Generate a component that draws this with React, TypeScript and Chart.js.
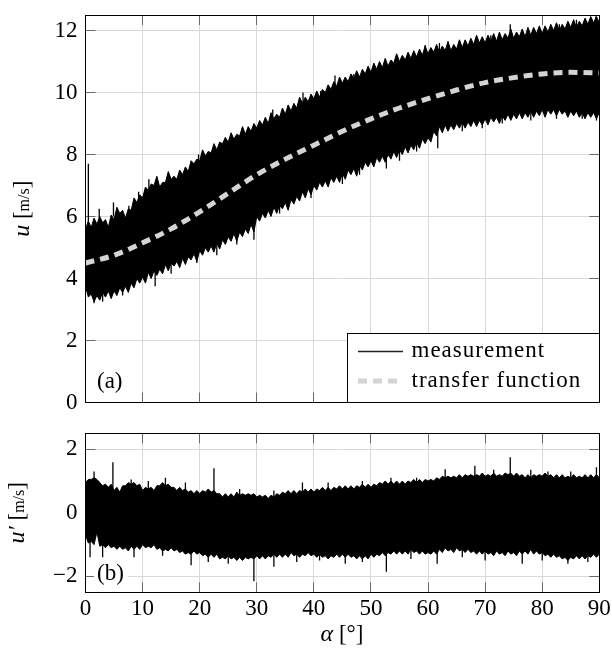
import React, { useEffect, useRef } from 'react';
import { Chart, registerables } from 'chart.js';

Chart.register(...registerables);

const SERIF = '"Liberation Serif", serif';

// angle samples (degrees): core edge at whole degrees, fringe tips at half degrees
const ALPHA = Array.from({ length: 91 }, (_, i) => i);
const HALF_ALPHA = Array.from({ length: 90 }, (_, i) => i + 0.5);

// (a) measurement band, u [m/s]: upper core edge / upper fringe tips
const TOP_UPPER = [
  5.6, 5.65, 5.75, 5.8, 5.65, 5.9, 6.1, 5.95, 6.2, 6.45,
  6.6, 6.85, 7.0, 6.95, 7.1, 7.2, 7.2, 7.35, 7.45, 7.7,
  7.8, 7.95, 8.05, 8.15, 8.35, 8.4, 8.5, 8.6, 8.65, 8.75,
  8.85, 8.95, 9.0, 9.15, 9.2, 9.3, 9.4, 9.5, 9.65, 9.7,
  9.8, 9.85, 10.0, 10.1, 10.2, 10.3, 10.35, 10.45, 10.5, 10.6,
  10.65, 10.75, 10.8, 10.85, 10.95, 11.0, 11.05, 11.1, 11.15, 11.2,
  11.25, 11.3, 11.3, 11.35, 11.35, 11.4, 11.45, 11.5, 11.55, 11.6,
  11.6, 11.65, 11.65, 11.7, 11.75, 11.75, 11.8, 11.8, 11.85, 11.9,
  11.9, 11.95, 12.0, 12.0, 12.05, 12.1, 12.1, 12.15, 12.2, 12.25,
  12.25,
];
const TOP_UPPER_FRINGE = [
  5.85, 5.95, 6.0, 5.9, 6.05, 6.3, 6.2, 6.25, 6.6, 6.7,
  6.95, 7.05, 7.3, 7.1, 7.45, 7.3, 7.5, 7.6, 7.8, 7.85,
  8.15, 8.1, 8.35, 8.4, 8.55, 8.7, 8.65, 8.9, 8.9, 9.0,
  9.1, 9.2, 9.35, 9.3, 9.5, 9.6, 9.65, 9.85, 9.85, 9.95,
  10.05, 10.1, 10.25, 10.35, 10.5, 10.5, 10.6, 10.7, 10.75, 10.85,
  10.95, 11.0, 11.1, 11.05, 11.25, 11.2, 11.3, 11.35, 11.4, 11.5,
  11.45, 11.55, 11.5, 11.65, 11.55, 11.7, 11.7, 11.75, 11.85, 11.8,
  11.85, 11.9, 11.95, 11.9, 12.05, 11.95, 12.05, 12.1, 12.1, 12.15,
  12.15, 12.2, 12.25, 12.2, 12.3, 12.35, 12.3, 12.4, 12.45, 12.45,
];
const TOP_LOWER = [
  3.75, 3.5, 3.45, 3.55, 3.6, 3.6, 3.7, 3.75, 3.85, 4.0,
  4.05, 4.2, 4.25, 4.3, 4.45, 4.5, 4.55, 4.65, 4.7, 4.8,
  4.9, 5.0, 5.05, 5.15, 5.25, 5.35, 5.45, 5.5, 5.6, 5.75,
  6.0, 6.1, 6.2, 6.3, 6.35, 6.45, 6.55, 6.65, 6.8, 6.9,
  7.0, 7.1, 7.15, 7.25, 7.3, 7.4, 7.5, 7.55, 7.65, 7.75,
  7.8, 7.9, 7.95, 8.0, 8.1, 8.15, 8.25, 8.3, 8.4, 8.5,
  8.55, 8.75, 8.9, 8.95, 8.95, 9.0, 9.05, 9.05, 9.1, 9.1,
  9.15, 9.2, 9.2, 9.25, 9.3, 9.3, 9.35, 9.35, 9.4, 9.4,
  9.45, 9.45, 9.45, 9.45, 9.4, 9.4, 9.4, 9.35, 9.35, 9.35,
  9.35,
];
const TOP_LOWER_FRINGE = [
  3.4, 3.25, 3.3, 3.4, 3.35, 3.45, 3.55, 3.55, 3.7, 3.85,
  3.85, 4.0, 4.1, 4.15, 4.25, 4.4, 4.35, 4.45, 4.6, 4.55,
  4.75, 4.85, 4.85, 4.95, 5.1, 5.2, 5.2, 5.35, 5.45, 5.5,
  5.85, 5.95, 6.0, 6.1, 6.25, 6.2, 6.4, 6.5, 6.6, 6.7,
  6.85, 6.95, 6.95, 7.1, 7.1, 7.2, 7.35, 7.3, 7.5, 7.6,
  7.6, 7.75, 7.75, 7.85, 7.9, 8.0, 8.05, 8.15, 8.2, 8.35,
  8.4, 8.6, 8.7, 8.75, 8.8, 8.85, 8.85, 8.9, 8.9, 8.95,
  8.95, 9.05, 9.0, 9.1, 9.1, 9.15, 9.15, 9.2, 9.2, 9.25,
  9.2, 9.3, 9.25, 9.3, 9.2, 9.25, 9.2, 9.15, 9.2, 9.15,
];

// (a) isolated long spikes: angle, base and tip value
const TOP_SPIKE_X = [
  0.5, 2.4, 4.9, 7.6, 9.3, 11.1, 16.5, 19.8, 24.5, 27.5, 32.8, 35.5, 38.1, 41.2, 43.7,
  47.0, 50.5, 53.5, 56.5, 59.5, 62.0, 65.5, 68.4, 71.0, 74.4, 77.5, 80.5, 83.0, 86.0, 89.4,
  1.5, 3.0, 6.5, 12.2, 15.0, 19.5, 23.0, 26.5, 29.5, 34.0, 39.5, 45.0,
  48.0, 52.7, 55.0, 58.0, 61.7, 66.0, 69.5, 73.0, 78.0, 82.5, 87.0, 89.5,
];
const TOP_SPIKE_BASE = [
  5.6, 5.8, 6.0, 5.95, 6.45, 6.85, 7.25, 7.8, 8.35, 8.6, 9.1, 9.3, 9.6, 9.85, 10.15,
  10.4, 10.7, 10.85, 11.05, 11.2, 11.3, 11.4, 11.55, 11.65, 11.75, 11.8, 11.9, 12.0, 12.1, 12.25,
  3.5, 3.55, 3.7, 4.25, 4.5, 4.8, 5.15, 5.45, 5.75, 6.35, 6.9, 7.4,
  7.65, 7.95, 8.15, 8.4, 8.75, 9.05, 9.1, 9.25, 9.4, 9.45, 9.35, 9.35,
];
const TOP_SPIKE_TIP = [
  7.7, 6.25, 6.45, 6.35, 6.8, 7.2, 7.45, 8.0, 8.55, 8.85, 9.45, 9.55, 10.0, 10.05, 10.55,
  10.6, 10.85, 11.0, 11.25, 11.53, 11.6, 11.65, 11.75, 11.85, 12.2, 12.0, 12.1, 12.2, 12.35, 12.45,
  3.2, 3.25, 3.45, 3.75, 4.15, 4.5, 4.75, 5.1, 5.25, 6.1, 6.6, 7.05,
  7.35, 7.55, 7.8, 8.1, 8.2, 8.75, 8.85, 9.0, 9.1, 9.15, 9.15, 9.1,
];

// (a) transfer function
const TF_ALPHA = [0, 5, 10, 15, 20, 25, 30, 35, 40, 45, 50, 55, 60, 65, 70, 75, 80, 85, 90];
const TF_U = [4.5, 4.75, 5.15, 5.6, 6.15, 6.75, 7.35, 7.85, 8.3, 8.75, 9.15, 9.5, 9.8, 10.08, 10.32, 10.48, 10.6, 10.65, 10.63];

// (b) fluctuation band u' [m/s]
const BOT_UPPER = [
  0.95, 1.05, 1.05, 0.85, 0.8, 0.7, 0.65, 0.85, 0.9, 0.85,
  0.7, 0.75, 0.7, 0.85, 0.85, 0.8, 0.7, 0.7, 0.65, 0.6,
  0.6, 0.65, 0.65, 0.6, 0.5, 0.5, 0.5, 0.55, 0.55, 0.55,
  0.5, 0.5, 0.45, 0.5, 0.55, 0.6, 0.6, 0.6, 0.65, 0.65,
  0.65, 0.7, 0.7, 0.7, 0.75, 0.75, 0.75, 0.75, 0.8, 0.8,
  0.8, 0.85, 0.9, 0.9, 0.9, 0.9, 0.9, 0.95, 0.95, 0.95,
  1.0, 1.0, 1.05, 1.1, 1.1, 1.1, 1.1, 1.15, 1.15, 1.15,
  1.15, 1.15, 1.15, 1.15, 1.2, 1.15, 1.15, 1.1, 1.1, 1.15,
  1.15, 1.15, 1.1, 1.1, 1.1, 1.1, 1.1, 1.1, 1.1, 1.1,
  1.1,
];
const BOT_UPPER_FRINGE = [
  1.05, 1.1, 0.95, 0.9, 0.9, 0.8, 0.85, 0.95, 0.95, 0.9,
  0.8, 0.8, 0.85, 0.95, 0.9, 0.8, 0.8, 0.75, 0.7, 0.7,
  0.7, 0.75, 0.7, 0.6, 0.6, 0.6, 0.65, 0.6, 0.6, 0.6,
  0.55, 0.55, 0.55, 0.6, 0.65, 0.7, 0.7, 0.7, 0.75, 0.75,
  0.75, 0.8, 0.8, 0.8, 0.85, 0.85, 0.85, 0.85, 0.9, 0.9,
  0.9, 0.95, 1.0, 1.0, 1.0, 1.0, 1.0, 1.05, 1.05, 1.05,
  1.05, 1.1, 1.15, 1.15, 1.15, 1.2, 1.2, 1.2, 1.2, 1.25,
  1.2, 1.25, 1.2, 1.25, 1.25, 1.25, 1.2, 1.2, 1.2, 1.2,
  1.25, 1.2, 1.2, 1.2, 1.15, 1.2, 1.15, 1.2, 1.2, 1.2,
];
const BOT_LOWER = [
  -0.7, -0.9, -0.6, -1.0, -1.0, -1.05, -1.05, -1.1, -1.05, -1.05,
  -1.0, -1.05, -1.0, -1.1, -1.15, -1.1, -1.15, -1.2, -1.25, -1.2,
  -1.25, -1.3, -1.3, -1.3, -1.4, -1.35, -1.4, -1.4, -1.4, -1.4,
  -1.35, -1.35, -1.35, -1.3, -1.3, -1.3, -1.25, -1.3, -1.3, -1.25,
  -1.3, -1.3, -1.35, -1.35, -1.3, -1.3, -1.3, -1.35, -1.35, -1.35,
  -1.3, -1.3, -1.25, -1.25, -1.2, -1.2, -1.2, -1.15, -1.2, -1.2,
  -1.25, -1.2, -1.15, -1.1, -1.15, -1.1, -1.15, -1.15, -1.2, -1.2,
  -1.2, -1.25, -1.2, -1.25, -1.2, -1.25, -1.2, -1.2, -1.15, -1.2,
  -1.25, -1.3, -1.3, -1.35, -1.4, -1.4, -1.35, -1.35, -1.35, -1.3,
  -1.3,
];
const BOT_LOWER_FRINGE = [
  -0.95, -1.0, -1.05, -1.1, -1.1, -1.15, -1.15, -1.2, -1.15, -1.15,
  -1.1, -1.1, -1.15, -1.2, -1.2, -1.2, -1.25, -1.3, -1.3, -1.3,
  -1.35, -1.4, -1.4, -1.45, -1.45, -1.45, -1.5, -1.5, -1.45, -1.45,
  -1.45, -1.45, -1.4, -1.4, -1.4, -1.4, -1.35, -1.4, -1.35, -1.35,
  -1.4, -1.4, -1.45, -1.4, -1.4, -1.4, -1.4, -1.45, -1.45, -1.45,
  -1.4, -1.35, -1.35, -1.3, -1.3, -1.3, -1.3, -1.25, -1.3, -1.3,
  -1.3, -1.3, -1.25, -1.2, -1.25, -1.2, -1.25, -1.25, -1.3, -1.3,
  -1.3, -1.35, -1.3, -1.35, -1.3, -1.35, -1.3, -1.3, -1.3, -1.3,
  -1.35, -1.4, -1.4, -1.45, -1.5, -1.45, -1.45, -1.45, -1.4, -1.4,
];
const BOT_SPIKE_X = [
  1.5, 4.8, 8.0, 11.0, 14.0, 17.5, 22.5, 27.0, 33.0, 38.0, 42.5, 48.5, 53.5, 58.0, 63.0,
  68.2, 71.5, 74.4, 78.0, 81.0, 85.0, 89.5,
  0.8, 3.0, 8.5, 13.5, 18.5, 21.5, 25.0, 29.5, 33.0, 37.0, 41.0, 45.5, 48.5, 52.7, 57.0,
  61.6, 66.0, 70.0, 76.5, 80.0, 84.5, 88.0,
];
const BOT_SPIKE_BASE = [
  1.05, 0.7, 0.9, 0.75, 0.85, 0.7, 0.65, 0.55, 0.5, 0.65, 0.7, 0.8, 0.9, 0.95, 1.1,
  1.15, 1.15, 1.2, 1.1, 1.15, 1.1, 1.1,
  -0.9, -1.0, -1.05, -1.1, -1.25, -1.3, -1.35, -1.4, -1.3, -1.3, -1.3, -1.3, -1.35, -1.25, -1.15,
  -1.2, -1.1, -1.2, -1.2, -1.25, -1.4, -1.35,
];
const BOT_SPIKE_TIP = [
  1.3, 1.59, 1.05, 1.0, 1.1, 0.95, 1.4, 0.75, 0.7, 0.95, 0.95, 1.0, 1.1, 1.1, 1.37,
  1.48, 1.35, 1.75, 1.35, 1.3, 1.3, 1.43,
  -1.4, -1.4, -1.4, -1.35, -1.65, -1.55, -1.6, -2.15, -1.7, -1.55, -1.5, -1.6, -1.55, -1.85, -1.45,
  -1.6, -1.4, -1.5, -1.6, -1.5, -1.6, -1.55,
];

const LEGEND_LABELS = ['measurement', 'transfer function'];

const GRID = '#d9d9d9';
const TICK_MARK = '#6a6a6a';
const TF_COLOR = '#d4d4d4';

type Pt = { x: number; y: number | null };

function zigzag(core: number[], fringe: number[]): Pt[] {
  const out: Pt[] = [];
  ALPHA.forEach((a, i) => {
    out.push({ x: a, y: core[i] });
    if (i < HALF_ALPHA.length) out.push({ x: HALF_ALPHA[i], y: fringe[i] });
  });
  return out;
}

function spikeData(xs: number[], base: number[], tip: number[]): Pt[] {
  const out: Pt[] = [];
  xs.forEach((x, i) => {
    out.push({ x, y: base[i] }, { x, y: tip[i] }, { x, y: null });
  });
  return out;
}

function align(p: number) {
  return Math.round(p - 0.5) + 0.5;
}

type Part = { t: string; f: string };

function drawParts(ctx: CanvasRenderingContext2D, cx: number, cy: number, parts: Part[], rotate: boolean) {
  let total = 0;
  const widths = parts.map((p) => {
    ctx.font = p.f;
    const w = ctx.measureText(p.t).width;
    total += w;
    return w;
  });
  ctx.save();
  ctx.textBaseline = 'alphabetic';
  ctx.textAlign = 'left';
  if (rotate) {
    ctx.translate(cx, cy);
    ctx.rotate(-Math.PI / 2);
    let x = -total / 2;
    parts.forEach((p, i) => {
      ctx.font = p.f;
      ctx.fillText(p.t, x, 0);
      x += widths[i];
    });
  } else {
    let x = cx - total / 2;
    parts.forEach((p, i) => {
      ctx.font = p.f;
      ctx.fillText(p.t, x, cy);
      x += widths[i];
    });
  }
  ctx.restore();
}

type DecorOpts = {
  panel: string;
  panelBaseline: number;
  panelBox: boolean;
  legend: boolean;
  yTitle: Part[];
  yTitleX: number;
  xTitle?: Part[];
  xTitleBaseline?: number;
};

function decorPlugin(o: DecorOpts) {
  return {
    id: 'decor',
    beforeDatasetsDraw(chart: any) {
      const { ctx, chartArea, scales } = chart;
      const { left, right, top, bottom } = chartArea;
      const TL = 10;
      ctx.save();
      ctx.strokeStyle = TICK_MARK;
      ctx.lineWidth = 1;
      ctx.beginPath();
      scales.x.ticks.forEach((t: any) => {
        const px = align(scales.x.getPixelForValue(t.value));
        ctx.moveTo(px, bottom);
        ctx.lineTo(px, bottom - TL);
        ctx.moveTo(px, top);
        ctx.lineTo(px, top + TL);
      });
      scales.y.ticks.forEach((t: any) => {
        const py = align(scales.y.getPixelForValue(t.value));
        ctx.moveTo(left, py);
        ctx.lineTo(left + TL, py);
        ctx.moveTo(right, py);
        ctx.lineTo(right - TL, py);
      });
      ctx.stroke();
      ctx.restore();
    },
    afterDraw(chart: any) {
      const { ctx, chartArea } = chart;
      const { left, right, top, bottom } = chartArea;
      const L = align(left);
      const R = align(right);
      const T = align(top);
      const B = align(bottom);

      ctx.save();
      if (o.legend) {
        const bx = 347.5;
        const by = 333.5;
        ctx.fillStyle = '#fff';
        ctx.fillRect(bx, by, R - bx, B - by);
        ctx.strokeStyle = '#000';
        ctx.lineWidth = 1;
        ctx.strokeRect(bx, by, R - bx, B - by);
        ctx.beginPath();
        ctx.strokeStyle = '#222';
        ctx.lineWidth = 1.3;
        ctx.moveTo(358, 351.5);
        ctx.lineTo(403, 351.5);
        ctx.stroke();
        ctx.beginPath();
        ctx.strokeStyle = TF_COLOR;
        ctx.lineWidth = 5;
        ctx.setLineDash([9, 6]);
        ctx.moveTo(358, 381);
        ctx.lineTo(403, 381);
        ctx.stroke();
        ctx.setLineDash([]);
        ctx.fillStyle = '#000';
        ctx.font = `23px ${SERIF}`;
        (ctx as any).letterSpacing = '1px';
        ctx.textAlign = 'left';
        ctx.textBaseline = 'alphabetic';
        ctx.fillText(LEGEND_LABELS[0], 411.5, 357);
        ctx.fillText(LEGEND_LABELS[1], 411.5, 387);
        (ctx as any).letterSpacing = '0px';
      }

      ctx.font = `23px ${SERIF}`;
      ctx.textAlign = 'left';
      ctx.textBaseline = 'alphabetic';
      const w = ctx.measureText(o.panel).width;
      if (o.panelBox) {
        ctx.fillStyle = '#fff';
        ctx.fillRect(94, o.panelBaseline - 18, w + 7, 25);
      }
      ctx.fillStyle = '#000';
      ctx.fillText(o.panel, 97, o.panelBaseline);

      ctx.strokeStyle = '#000';
      ctx.lineWidth = 1;
      ctx.strokeRect(L, T, R - L, B - T);

      ctx.fillStyle = '#000';
      drawParts(ctx, o.yTitleX, (top + bottom) / 2, o.yTitle, true);
      if (o.xTitle && o.xTitleBaseline) {
        drawParts(ctx, 342, o.xTitleBaseline, o.xTitle, false);
      }
      ctx.restore();
    },
  };
}

const minusFmt = (v: any) => (Number(v) < 0 ? '\u2212' + Math.abs(Number(v)) : String(v));

function bandDatasets(upper: Pt[], lower: Pt[], spikes: Pt[], name: string) {
  return [
    {
      label: name,
      data: upper,
      borderColor: '#000',
      backgroundColor: '#000',
      borderWidth: 1,
      pointRadius: 0,
      fill: '+1',
      tension: 0,
    },
    {
      label: name + ' lower',
      data: lower,
      borderColor: '#000',
      borderWidth: 1,
      pointRadius: 0,
      fill: false,
      tension: 0,
    },
    {
      label: name + ' spikes',
      data: spikes,
      borderColor: '#000',
      borderWidth: 1.3,
      pointRadius: 0,
      fill: false,
      spanGaps: false,
    },
  ];
}

function fixY(width: number) {
  return (s: any) => {
    s.width = width;
    s.paddingTop = 0;
    s.paddingBottom = 0;
    s.paddingLeft = 0;
    s.paddingRight = 0;
  };
}
function fixX(height: number) {
  return (s: any) => {
    s.height = height;
    s.paddingTop = 0;
    s.paddingBottom = 0;
    s.paddingLeft = 0;
    s.paddingRight = 0;
  };
}

export default function App() {
  const topRef = useRef<HTMLCanvasElement | null>(null);
  const botRef = useRef<HTMLCanvasElement | null>(null);

  useEffect(() => {
    if (!topRef.current || !botRef.current) return;

    const gridCfg = { color: GRID, lineWidth: 1, drawTicks: false };
    const tickFont = { family: SERIF, size: 23 };

    const top = new Chart(topRef.current, {
      type: 'line',
      data: {
        datasets: [
          {
            label: 'transfer function',
            data: TF_ALPHA.map((a, i) => ({ x: a, y: TF_U[i] })),
            borderColor: TF_COLOR,
            borderWidth: 5,
            borderDash: [9, 6],
            pointRadius: 0,
            fill: false,
            cubicInterpolationMode: 'monotone',
          },
          ...bandDatasets(
            zigzag(TOP_UPPER, TOP_UPPER_FRINGE),
            zigzag(TOP_LOWER, TOP_LOWER_FRINGE),
            spikeData(TOP_SPIKE_X, TOP_SPIKE_BASE, TOP_SPIKE_TIP),
            'measurement',
          ),
        ],
      } as any,
      options: {
        animation: false,
        responsive: false,
        maintainAspectRatio: false,
        events: [],
        layout: { padding: { left: 0, top: 15, right: 12.7, bottom: 17.5 } },
        plugins: { legend: { display: false }, tooltip: { enabled: false } },
        scales: {
          x: {
            type: 'linear',
            min: 0,
            max: 90,
            ticks: { display: false, stepSize: 10 },
            grid: gridCfg,
            border: { display: false },
            afterFit: fixX(0),
          },
          y: {
            type: 'linear',
            min: 0,
            max: 12.5,
            ticks: { stepSize: 2, includeBounds: false, font: tickFont, color: '#000', padding: 8, callback: minusFmt },
            grid: gridCfg,
            border: { display: false },
            afterFit: fixY(85.5),
          },
        },
      } as any,
      plugins: [
        decorPlugin({
          panel: '(a)',
          panelBaseline: 388,
          panelBox: false,
          legend: true,
          yTitle: [
            { t: 'u', f: `italic 24px ${SERIF}` },
            { t: ' ', f: `23px ${SERIF}` },
            { t: '[', f: `23px ${SERIF}` },
            { t: 'm/s', f: `16px ${SERIF}` },
            { t: ']', f: `23px ${SERIF}` },
          ],
          yTitleX: 29,
        }),
      ],
    });

    const bot = new Chart(botRef.current, {
      type: 'line',
      data: {
        datasets: bandDatasets(
          zigzag(BOT_UPPER, BOT_UPPER_FRINGE),
          zigzag(BOT_LOWER, BOT_LOWER_FRINGE),
          spikeData(BOT_SPIKE_X, BOT_SPIKE_BASE, BOT_SPIKE_TIP),
          'fluctuation',
        ),
      } as any,
      options: {
        animation: false,
        responsive: false,
        maintainAspectRatio: false,
        events: [],
        layout: { padding: { left: 0, top: 13.3, right: 12.7, bottom: 0 } },
        plugins: { legend: { display: false }, tooltip: { enabled: false } },
        scales: {
          x: {
            type: 'linear',
            min: 0,
            max: 90,
            ticks: { stepSize: 10, font: tickFont, color: '#000', padding: 3, maxRotation: 0, autoSkip: false },
            grid: gridCfg,
            border: { display: false },
            afterFit: fixX(62.7),
          },
          y: {
            type: 'linear',
            min: -2.5,
            max: 2.5,
            ticks: { stepSize: 2, includeBounds: false, font: tickFont, color: '#000', padding: 8, callback: minusFmt },
            grid: gridCfg,
            border: { display: false },
            afterFit: fixY(85.5),
          },
        },
      } as any,
      plugins: [
        decorPlugin({
          panel: '(b)',
          panelBaseline: 160,
          panelBox: true,
          legend: false,
          yTitle: [
            { t: 'u\u2032', f: `italic 24px ${SERIF}` },
            { t: ' ', f: `23px ${SERIF}` },
            { t: '[', f: `23px ${SERIF}` },
            { t: 'm/s', f: `16px ${SERIF}` },
            { t: ']', f: `23px ${SERIF}` },
          ],
          yTitleX: 24,
          xTitle: [
            { t: '\u03b1', f: `italic 24px ${SERIF}` },
            { t: ' [\u00b0]', f: `23px ${SERIF}` },
          ],
          xTitleBaseline: 221,
        }),
      ],
    });

    return () => {
      top.destroy();
      bot.destroy();
    };
  }, []);

  return (
    <div style={{ position: 'absolute', left: 0, top: 0, width: 612, height: 655, background: '#fff' }}>
      <canvas
        ref={topRef}
        width={612}
        height={420}
        style={{ position: 'absolute', left: 0, top: 0, width: 612, height: 420 }}
      />
      <canvas
        ref={botRef}
        width={612}
        height={235}
        style={{ position: 'absolute', left: 0, top: 420, width: 612, height: 235 }}
      />
    </div>
  );
}
